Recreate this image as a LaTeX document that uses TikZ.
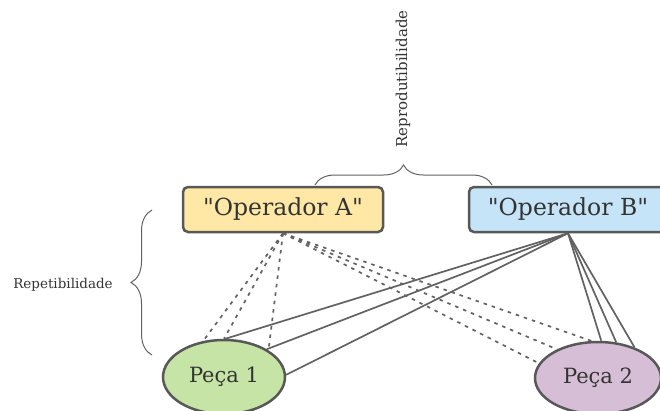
\documentclass[tikz,border=0pt]{standalone}
\usepackage{fontspec}
\setmainfont{DejaVu Serif}[Ligatures=TeXOff]
\usetikzlibrary{shapes.geometric,decorations.pathreplacing}

\definecolor{yelA}{RGB}{255,232,166}
\definecolor{bluB}{RGB}{197,228,247}
\definecolor{grnP}{RGB}{198,228,166}
\definecolor{purP}{RGB}{214,191,214}
\definecolor{edgec}{RGB}{88,88,88}
\definecolor{linkc}{RGB}{98,98,98}
\definecolor{txtc}{RGB}{51,51,51}

\tikzset{
  opbox/.style={draw=edgec, line width=2.5pt, rounded corners=5pt,
    minimum height=45pt, inner sep=0pt, text=txtc,
    font=\fontsize{23.5}{26}\selectfont},
  piece/.style={ellipse, draw=edgec, line width=2.5pt, inner sep=0pt,
    text=txtc, font=\fontsize{21}{24}\selectfont},
  lbl/.style={text=txtc, inner sep=0pt},
  solidlink/.style={draw=linkc, line width=1.7pt},
  dashlink/.style={draw=linkc, line width=1.7pt, dash pattern=on 3.5pt off 5pt},
  bracec/.style={draw=linkc, line width=1pt, decorate},
}

\begin{document}
\begin{tikzpicture}[x=1pt,y=-1pt]
  \useasboundingbox (0,0) rectangle (660,410);
  \clip (0,0) rectangle (660,410);

  % operators
  \node[opbox, fill=yelA, minimum width=200pt] (A) at (283,209.5) {"Operador A"};
  \node[opbox, fill=bluB, minimum width=198pt] (B) at (568,209.5) {"Operador B"};

  % parts
  \node[piece, fill=grnP, minimum width=122pt, minimum height=74pt] (P1) at (224,377) {Peça 1};
  \node[piece, fill=purP, minimum width=126pt, minimum height=72pt] (P2) at (598,378) {Peça 2};

  % operator A measurements (dashed)
  \draw[dashlink] (A.south) -- (P1.120);
  \draw[dashlink] (A.south) -- (P1.90);
  \draw[dashlink] (A.south) -- (P1.31);
  \draw[dashlink] (A.south) -- (P2.100);
  \draw[dashlink] (A.south) -- (P2.145);
  \draw[dashlink] (A.south) -- (P2.166);

  % operator B measurements (solid)
  \draw[solidlink] (B.south) -- (P1.88);
  \draw[solidlink] (B.south) -- (P1.33);
  \draw[solidlink] (B.south) -- (P1.2);
  \draw[solidlink] (B.south) -- (P2.85);
  \draw[solidlink] (B.south) -- (P2.63);
  \draw[solidlink] (B.south) -- (P2.40);

  % repeatability brace
  \coordinate (rb1) at (152,355);
  \coordinate (rb2) at (152,210);
  \draw[bracec, decoration={brace, amplitude=21pt}] (rb1) -- (rb2);
  \node[lbl, font=\fontsize{13.5}{16}\selectfont] (rep) at (63,285) {Repetibilidade};

  % reproducibility brace
  \coordinate (tb1) at (315,185);
  \coordinate (tb2) at (492,185);
  \draw[bracec, decoration={brace, amplitude=20pt}] (tb1) -- (tb2);
  \node[lbl, rotate=90, font=\fontsize{15}{17}\selectfont] (repro) at (403,79) {Reprodutibilidade};
\end{tikzpicture}
\end{document}
